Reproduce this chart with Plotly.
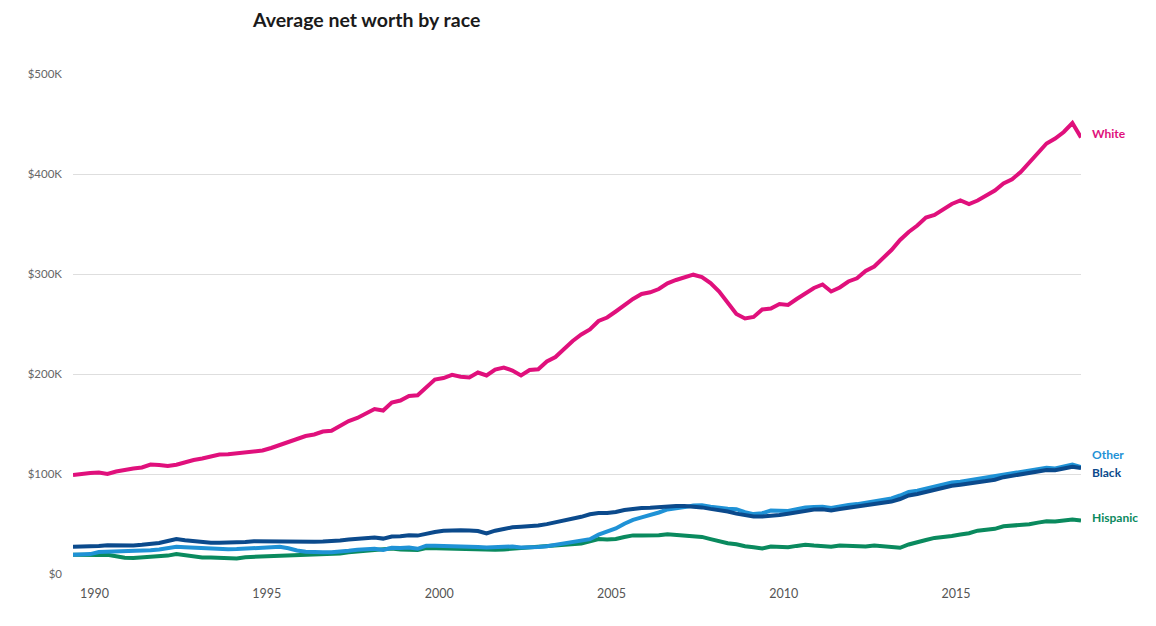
import plotly.graph_objects as go

# Quarterly observations, 1989 Q2 .. 2018 Q3 (118 quarters), values in thousands of dollars
start_year = 1989
start_quarter = 2
white = [99, 100.5, 101, 101.5, 100, 102.5, 104.5, 105.5, 106.5, 109.5,
         109, 108, 109.3, 112, 114, 115.5, 118, 119.5, 119.7, 120.5,
         121.3, 122, 123.5, 126, 129, 133, 135, 138, 139.5, 142.5,
         143.3, 148.5, 153, 156, 160.5, 165, 163.5, 171.5, 173.5, 178,
         178.8, 187, 194.5, 196, 199.2, 197.3, 196.5, 201.5, 198.5, 204.5,
         206.5, 203.5, 198.5, 204, 204.7, 212.5, 217, 225, 233, 239.5,
         244.5, 253, 256.5, 262.5, 269, 275, 280, 281.7, 285, 290.7,
         294, 296.4, 299.3, 297, 291, 282.5, 272, 260, 255.5, 257,
         264.5, 265.5, 270, 269, 275, 281, 286, 289.5, 282.5, 286.5,
         292.5, 295.7, 303, 307.5, 315.5, 324, 334, 342, 348.5, 356.5,
         359, 364.5, 370, 373.5, 370, 373.5, 378, 383.5, 390.5, 394.8,
         402, 411.5, 420, 430.5, 435.5, 442, 451, 436.5]
black = [27.3, 27.3, 27.3, 28, 28.7, 28.4, 28, 28.5, 29.2, 30,
         31, 33, 35, 33.8, 32.7, 32, 31.3, 31.3, 31.3, 31.5,
         32, 32.7, 32.5, 32.4, 32.4, 32.6, 32.6, 32.4, 32.3, 32.5,
         32.6, 33.5, 34.4, 35, 35.8, 36.6, 35.4, 37.5, 37.8, 38.7,
         38.4, 40.5, 42, 43.3, 43.9, 43.7, 43.5, 43, 40.5, 43.3,
         45, 46.7, 47.3, 47.8, 48.5, 49.9, 51.6, 53.3, 55, 57.2,
         59.7, 61, 61.1, 62, 64, 65.5, 66.1, 66.3, 67, 67.8,
         68, 68, 67.6, 66.6, 65.1, 64.2, 62.5, 60.4, 58.6, 57.5,
         57.4, 58, 59, 60.3, 61.9, 63.8, 64.4, 64.7, 63.6, 65,
         66.1, 67.2, 68.4, 70, 71.2, 72.4, 75, 78.5, 80, 82,
         84.7, 87, 88.2, 89.3, 90.4, 91.7, 93, 94.3, 96.8, 98,
         99.2, 100.8, 102.5, 104, 103.8, 105.5, 107.3, 106]
other = [19.3, 19.6, 19.9, 22, 22.3, 22.2, 22, 22.4, 23, 23.7,
         24.6, 26, 27.3, 26.8, 26.3, 25.5, 24.7, 24.7, 24.7, 24.9,
         25.5, 26, 26, 26.4, 27.3, 25.8, 23.5, 22.3, 21.7, 21.7,
         21.7, 22.2, 23.2, 24.3, 24.9, 25.3, 24.1, 26.2, 26, 26.4,
         25.2, 28.3, 28.3, 28.2, 27.9, 27.7, 27.4, 27, 26.4, 27,
         27.7, 27.5, 26.6, 26.5, 26.9, 27.8, 29, 30.2, 31.5, 33.1,
         34.8, 39.3, 41.9, 45.5, 50.3, 54.1, 56.6, 58.7, 61.5, 64.6,
         65.3, 66.9, 68.5, 68.7, 67.2, 65.8, 65.2, 64.8, 61.8, 59.9,
         60.8, 63.5, 63.6, 63, 64.8, 66.5, 67, 67.3, 66, 67.8,
         69, 69.9, 71.2, 72.6, 73.9, 75.5, 78.5, 82, 83.4, 85.5,
         88.2, 90.3, 91.5, 92.3, 93.6, 95.2, 96.7, 97.5, 99.6, 100.9,
         101.9, 103, 104.4, 106.3, 105.5, 107, 109.5, 107]
hispanic = [19.3, 19, 18.8, 19, 19.2, 17.8, 16.3, 16, 16.6, 16.8,
            17, 18.4, 19.9, 18.5, 17.2, 16.6, 16.4, 16, 15.3, 15.6,
            16.8, 17.1, 17.2, 17.5, 17.9, 18.3, 18.3, 18.7, 19.3, 19.5,
            19.6, 20.6, 21.8, 22.7, 23.6, 24.6, 25.2, 25.6, 24.5, 24,
            24, 26, 25.7, 25.7, 25.6, 25.4, 24.9, 24.2, 24.1, 24.3,
            24.6, 25.2, 25.6, 26.2, 26.9, 27.6, 28.5, 29.3, 29.6, 30.6,
            32.6, 34.9, 34.4, 35.1, 37, 38.6, 38.4, 38.1, 38.8, 39.8,
            39.2, 38.5, 37.7, 37.1, 34.9, 32.5, 30.8, 29.7, 27.7, 26.8,
            25.5, 27.5, 27.4, 26.7, 28.1, 29.2, 28.4, 27.7, 27.2, 28.4,
            28.1, 27.4, 27.5, 28.6, 27.5, 26.5, 26.2, 29.5, 31.3, 34,
            36.1, 37.6, 38.1, 39.4, 40.8, 43.3, 44, 45.2, 47.7, 48.2,
            48.5, 49.8, 51.4, 52.7, 52.4, 53.5, 54.6, 53.5]

series_names = ["Hispanic", "Other", "Black", "White"]
series_values = [hispanic, other, black, white]
series_colors = ["#0A8A5E", "#1F92D6", "#0B4A8C", "#E0107C"]
label_y = {"White": 441, "Other": 120, "Black": 102, "Hispanic": 57}

y_ticks = [0, 100, 200, 300, 400, 500]
y_tick_labels = ["$0", "$100K", "$200K", "$300K", "$400K", "$500K"]
x_ticks = [1990, 1995, 2000, 2005, 2010, 2015]

n = len(white)
x = [start_year + (start_quarter - 1) / 4 + 0.125 + i / 4 for i in range(n)]

fig = go.Figure()
for name, vals, col in zip(series_names, series_values, series_colors):
    fig.add_trace(go.Scatter(x=x, y=vals, mode="lines", name=name,
                             line=dict(color=col, width=4, shape="linear"),
                             hoverinfo="skip"))

annotations = []
for name, col in zip(series_names, series_colors):
    annotations.append(dict(x=1, xref="paper", xanchor="left", xshift=9,
                            y=label_y[name], yref="y", yanchor="middle",
                            text="<b>%s</b>" % name, showarrow=False,
                            font=dict(color=col, size=12, family="Lato")))

W, H = 1148, 618  # page body adds an 8px offset
fig.update_layout(
    width=W, height=H,
    margin=dict(l=65, r=75, t=66, b=52),
    paper_bgcolor="white", plot_bgcolor="white",
    showlegend=False,
    font=dict(family="Lato", color="#666666", size=12),
    title=dict(text="<b>Average net worth by race</b>", xref="container",
               x=245 / W, xanchor="left", yref="container",
               y=1 - 12 / H, yanchor="middle",
               font=dict(family="Lato", size=19.5, color="#1a1a1a")),
    annotations=annotations,
)
fig.update_xaxes(range=[x[0], x[-1]], tickvals=x_ticks,
                 ticktext=[str(t) for t in x_ticks],
                 showgrid=False, zeroline=False, showline=False,
                 ticks="", tickfont=dict(size=12.5, color="#555555"),
                 ticklabelstandoff=10)
fig.update_yaxes(range=[0, 500], tickvals=y_ticks, ticktext=y_tick_labels,
                 showgrid=True, gridcolor="#DEDEDE", gridwidth=1,
                 zeroline=False, showline=False, ticks="",
                 tickfont=dict(size=11.5, color="#666666"),
                 ticklabelstandoff=10)

fig.write_html("out.html")
